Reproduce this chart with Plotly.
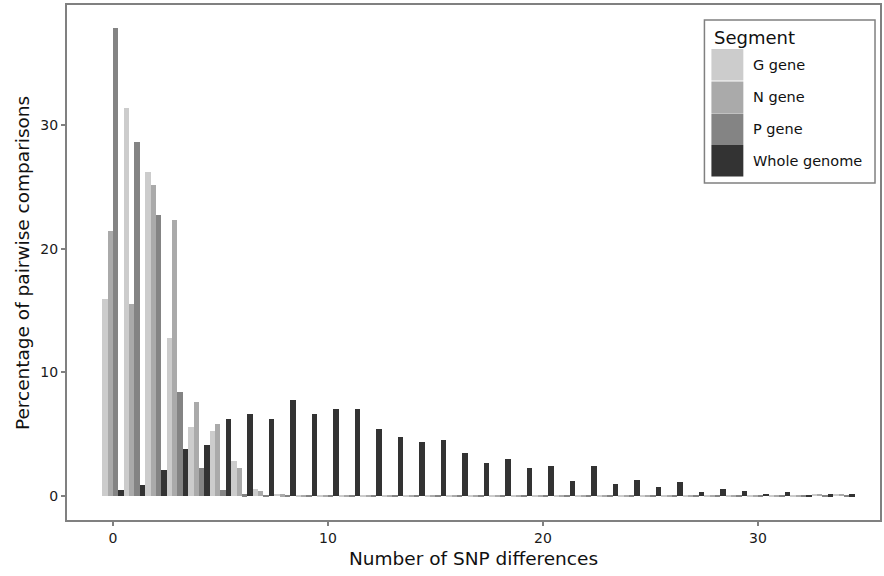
import plotly.graph_objects as go

# ---- data ----
snp_differences = list(range(35))
segments = ["G gene", "N gene", "P gene", "Whole genome"]
colors = ["#CCCCCC", "#AAAAAA", "#848484", "#333333"]

g_gene = [15.9, 31.4, 26.2, 12.8, 5.6, 5.3, 2.8, 0.6, 0.2, 0.1,
          0.1, 0.1, 0.1, 0.1, 0.1, 0.1, 0.1, 0.1, 0.1, 0.1,
          0.1, 0.1, 0.1, 0.1, 0.1, 0.1, 0.1, 0.1, 0.1, 0.1,
          0.1, 0.1, 0.1, 0.2, 0.2]
n_gene = [21.4, 15.5, 25.2, 22.3, 7.6, 5.8, 2.3, 0.4, 0.15, 0.1,
          0.1, 0.1, 0.1, 0.1, 0.1, 0.1, 0.1, 0.1, 0.1, 0.1,
          0.1, 0.1, 0.1, 0.1, 0.1, 0.1, 0.1, 0.1, 0.1, 0.1,
          0.1, 0.1, 0.1, 0.2, 0.2]
p_gene = [37.9, 28.6, 22.7, 8.4, 2.3, 0.5, 0.15, 0.1, 0.05, 0.05,
          0.05, 0.05, 0.05, 0.05, 0.05, 0.05, 0.05, 0.05, 0.05, 0.05,
          0.05, 0.05, 0.05, 0.05, 0.05, 0.05, 0.05, 0.05, 0.05, 0.05,
          0.05, 0.05, 0.05, 0.1, 0.1]
whole_genome = [0.5, 0.9, 2.1, 3.8, 4.1, 6.2, 6.6, 6.2, 7.8, 6.6,
                7.0, 7.0, 5.4, 4.8, 4.4, 4.5, 3.45, 2.7, 3.0, 2.3,
                2.4, 1.2, 2.4, 0.97, 1.3, 0.75, 1.15, 0.35, 0.55, 0.4,
                0.2, 0.35, 0.1, 0.15, 0.15]

series = [g_gene, n_gene, p_gene, whole_genome]
x_ticks = [0, 10, 20, 30]
y_ticks = [0, 10, 20, 30]

W, H = 884, 576
ML, MR, MT, MB = 67, 2, 5, 56
PW, PH = W - ML - MR, H - MT - MB


def px(xp):
    return (xp - ML) / PW


def py(yp):
    return (H - MB - yp) / PH


FONT = "DejaVu Sans"

fig = go.Figure()
for name, vals, col in zip(segments, series, colors):
    fig.add_trace(go.Bar(x=snp_differences, y=vals, name=name,
                         marker=dict(color=col, line=dict(width=0)),
                         showlegend=False))

fig.update_layout(
    width=W, height=H,
    margin=dict(l=ML, r=MR, t=MT, b=MB),
    barmode="group", bargap=0, bargroupgap=0,
    plot_bgcolor="white", paper_bgcolor="white",
    font=dict(family=FONT, color="#1a1a1a"),
)
fig.update_xaxes(range=[-2.135, 35.68], tickvals=x_ticks, showgrid=False, zeroline=False,
                 showline=True, mirror=True, linecolor="#808080", linewidth=2,
                 ticks="outside", ticklen=4, tickwidth=1.5, tickcolor="#808080",
                 tickfont=dict(size=14, family=FONT, color="#1a1a1a"))
fig.update_yaxes(range=[-1.94, 39.72], tickvals=y_ticks, showgrid=False, zeroline=False,
                 showline=True, mirror=True, linecolor="#808080", linewidth=2,
                 ticks="outside", ticklen=4, tickwidth=1.5, tickcolor="#808080",
                 tickfont=dict(size=14, family=FONT, color="#1a1a1a"))

# axis titles
fig.add_annotation(text="Number of SNP differences", xref="paper", yref="paper",
                   x=px(475), y=py(558), xanchor="center", yanchor="middle",
                   showarrow=False, font=dict(size=18.5, family=FONT, color="#111"))
fig.add_annotation(text="Percentage of pairwise comparisons", xref="paper", yref="paper",
                   x=px(22), y=py(263), xanchor="center", yanchor="middle", textangle=-90,
                   showarrow=False, font=dict(size=18.5, family=FONT, color="#111"))

# manual legend
fig.add_shape(type="rect", xref="paper", yref="paper",
              x0=px(706), x1=px(877), y0=py(183), y1=py(20),
              line=dict(color="#808080", width=1.5), fillcolor="white", layer="above")
fig.add_annotation(text="Segment", xref="paper", yref="paper", x=px(714), y=py(37),
                   xanchor="left", yanchor="middle", showarrow=False,
                   font=dict(size=18, family=FONT, color="#111"))
key_tops = [49, 81.5, 113.5, 145]
key_h = 31.5
for name, col, top in zip(segments, colors, key_tops):
    fig.add_shape(type="rect", xref="paper", yref="paper",
                  x0=px(713), x1=px(745), y0=py(top + key_h), y1=py(top),
                  line=dict(width=0), fillcolor=col, layer="above")
    fig.add_annotation(text=name, xref="paper", yref="paper", x=px(753),
                       y=py(top + key_h / 2), xanchor="left", yanchor="middle",
                       showarrow=False, font=dict(size=14.5, family=FONT, color="#111"))

fig.write_html("out.html",
               config={"displayModeBar": False},
               post_script="document.body.style.margin='0px';document.body.style.overflow='hidden';")
